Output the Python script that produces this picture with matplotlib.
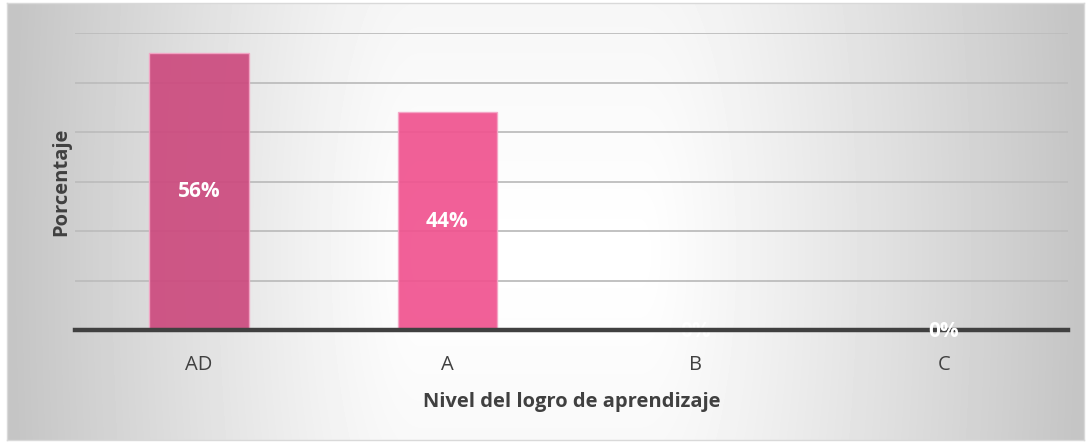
import numpy as np
import matplotlib
matplotlib.use("Agg")
import matplotlib.pyplot as plt

categories = ["AD", "A", "B", "C"]
values = [56, 44, 0, 0]
labels = ["56%", "44%", "0%", "0%"]
bar_colors = ["#CC4A7E", "#F0538F", "#F0538F", "#F0538F"]

plt.rcParams['font.family'] = ['Open Sans', 'DejaVu Sans']

W, H = 1091, 443
fig = plt.figure(figsize=(W / 100, H / 100), dpi=100)
fig.patch.set_facecolor("white")

# background gradient panel
bw, bh = 1077, 437
bg = fig.add_axes([7 / W, 3 / H, bw / W, bh / H])
yy, xx = np.mgrid[0:bh, 0:bw].astype(float)
xx = xx + 7
left_t = np.clip((420 - xx) / 410.0, 0, 1)
right_t = np.clip((xx - 640) / 440.0, 0, 1)
t = np.maximum(left_t, right_t)
vy = np.abs(yy - 250) / 250.0
t = np.clip(np.sqrt(t ** 2 + (0.18 * vy) ** 2), 0, 1)
val = 1.0 - 0.23 * t ** 1.1
bg.imshow(val, cmap="gray", vmin=0, vmax=1, aspect="auto", interpolation="bilinear")
bg.set_xticks([]); bg.set_yticks([])
for s in bg.spines.values():
    s.set_color("#D9D9D9"); s.set_linewidth(1)
bg.set_zorder(0)

ax = fig.add_axes([75 / W, (H - 330) / H, 993 / W, 297 / H])
ax.set_zorder(1)
ax.patch.set_alpha(0)
x = np.arange(len(categories))
ax.set_xlim(-0.5, len(categories) - 0.5)
ax.set_ylim(0, 60)
ax.set_yticks(np.arange(0, 61, 10))
ax.yaxis.grid(True, color="#BDBDBD", linewidth=1.3)
ax.set_axisbelow(True)
ax.tick_params(axis="y", length=0, labelleft=False)
ax.tick_params(axis="x", length=0, pad=18, labelsize=14.5, labelcolor="#404040")
for s in ax.spines.values():
    s.set_visible(False)

bars = ax.bar(x, values, width=0.4, color=bar_colors, alpha=0.92,
              edgecolor="#F4A6C6", linewidth=1.0, zorder=2)
ax.set_xticks(x)
ax.set_xticklabels(categories)

# baseline
ax.axhline(0, color="#404040", linewidth=3.2, zorder=3, clip_on=False)

for i, (v, lab) in enumerate(zip(values, labels)):
    if v > 0:
        ypos, z = v / 2, 4
    elif i == 2:
        ypos, z = -0.3, 2.5
    else:
        ypos, z = -0.25, 4
    ax.text(x[i], ypos, lab, ha="center", va="center",
            color="white", fontsize=15, fontweight="bold", zorder=z)

ax.set_xlabel("Nivel del logro de aprendizaje", fontsize=14.5, fontweight="bold",
              color="#404040", labelpad=12)
ax.set_ylabel("Porcentaje", fontsize=14.5, fontweight="bold", color="#404040",
              labelpad=3)

fig.savefig("out.png", dpi=100)
